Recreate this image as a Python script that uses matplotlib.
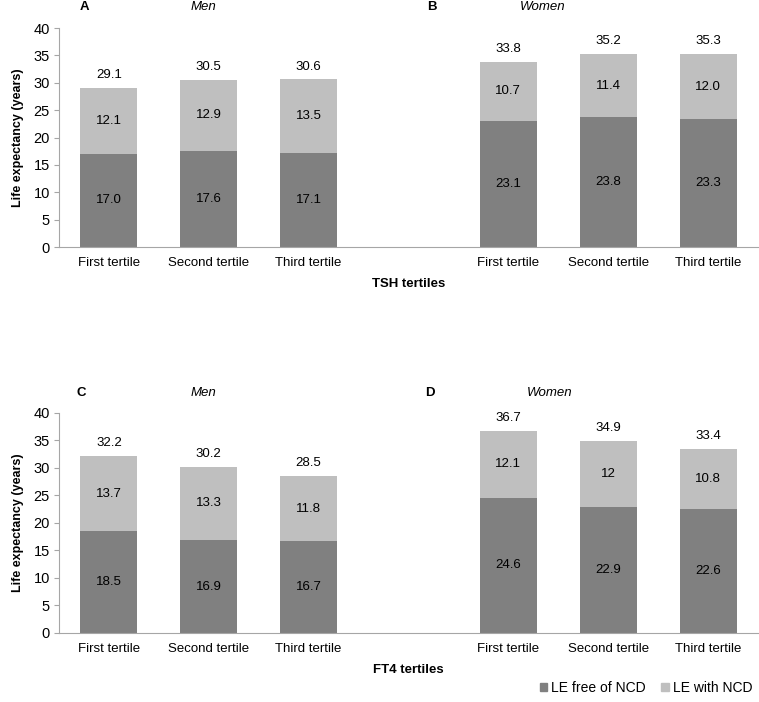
import numpy as np
import matplotlib
matplotlib.use("Agg")
import matplotlib.pyplot as plt
from matplotlib.patches import Patch

plt.rcParams['font.family'] = ['Liberation Sans', 'DejaVu Sans']
plt.rcParams['font.size'] = 9

categories = ["First tertile", "Second tertile", "Third tertile", "",
              "First tertile", "Second tertile", "Third tertile"]

# TSH tertiles (men 3, gap, women 3)
tsh_free = [17.0, 17.6, 17.1, None, 23.1, 23.8, 23.3]
tsh_with = [12.1, 12.9, 13.5, None, 10.7, 11.4, 12.0]
tsh_free_lbl = ["17.0", "17.6", "17.1", "", "23.1", "23.8", "23.3"]
tsh_with_lbl = ["12.1", "12.9", "13.5", "", "10.7", "11.4", "12.0"]
tsh_total_lbl = ["29.1", "30.5", "30.6", "", "33.8", "35.2", "35.3"]

# FT4 tertiles
ft4_free = [18.5, 16.9, 16.7, None, 24.6, 22.9, 22.6]
ft4_with = [13.7, 13.3, 11.8, None, 12.1, 12.0, 10.8]
ft4_free_lbl = ["18.5", "16.9", "16.7", "", "24.6", "22.9", "22.6"]
ft4_with_lbl = ["13.7", "13.3", "11.8", "", "12.1", "12", "10.8"]
ft4_total_lbl = ["32.2", "30.2", "28.5", "", "36.7", "34.9", "33.4"]

c_free = "#808080"
c_with = "#BFBFBF"
spine_c = "#A6A6A6"

fig = plt.figure(figsize=(7.59, 7.02), dpi=100)
ax1 = fig.add_axes([0.0777, 0.6481, 0.9210, 0.3120])
ax2 = fig.add_axes([0.0777, 0.0983, 0.9210, 0.3134])


def draw(ax, free, withn, free_lbl, with_lbl, tot_lbl, xlabel):
    for i in range(len(categories)):
        if free[i] is None:
            continue
        ax.bar(i, free[i], width=0.57, color=c_free, zorder=2)
        ax.bar(i, withn[i], width=0.57, bottom=free[i], color=c_with, zorder=2)
        ax.text(i, free[i] / 2, free_lbl[i], ha="center", va="center", fontsize=9.5)
        ax.text(i, free[i] + withn[i] / 2, with_lbl[i], ha="center", va="center", fontsize=9.5)
        ax.annotate(tot_lbl[i], (i, free[i] + withn[i]), xytext=(0, 5),
                    textcoords="offset points", ha="center", va="bottom", fontsize=9.5)
    ax.set_xlim(-0.5, len(categories) - 0.5)
    ax.set_ylim(0, 40)
    ax.set_yticks(np.arange(0, 41, 5))
    ax.set_xticks(range(len(categories)))
    ax.set_xticklabels(categories)
    ax.tick_params(axis="x", length=0, pad=7, labelsize=9.5)
    ax.tick_params(axis="y", length=3.5, pad=3, color=spine_c, labelsize=10.5)
    for s in ["top", "right"]:
        ax.spines[s].set_visible(False)
    ax.spines["left"].set_color(spine_c)
    ax.spines["bottom"].set_color(spine_c)
    ax.set_ylabel("Life expectancy (years)", fontweight="bold", fontsize=9, labelpad=7)
    ax.set_xlabel(xlabel, fontweight="bold", fontsize=9.5, labelpad=7)


draw(ax1, tsh_free, tsh_with, tsh_free_lbl, tsh_with_lbl, tsh_total_lbl, "TSH tertiles")
draw(ax2, ft4_free, ft4_with, ft4_free_lbl, ft4_with_lbl, ft4_total_lbl, "FT4 tertiles")

W, H = 759, 702
def ftext(x, y, s, **kw):
    fig.text(x / W, 1 - y / H, s, ha="center", va="center", fontsize=9.5, **kw)

ftext(84, 7, "A", fontweight="bold")
ftext(203, 7, "Men", style="italic")
ftext(432, 7, "B", fontweight="bold")
ftext(543, 7, "Women", style="italic")
ftext(81, 393, "C", fontweight="bold")
ftext(203, 393, "Men", style="italic")
ftext(430, 393, "D", fontweight="bold")
ftext(550, 393, "Women", style="italic")

handles = [Patch(color=c_free, label="LE free of NCD"),
           Patch(color=c_with, label="LE with NCD")]
fig.legend(handles=handles, loc="center right", bbox_to_anchor=(1.008, 1 - 688 / H),
           ncol=2, frameon=False, handlelength=0.55, handleheight=0.55,
           handletextpad=0.3, columnspacing=1.1, fontsize=10)

fig.savefig("out.png", dpi=100)
